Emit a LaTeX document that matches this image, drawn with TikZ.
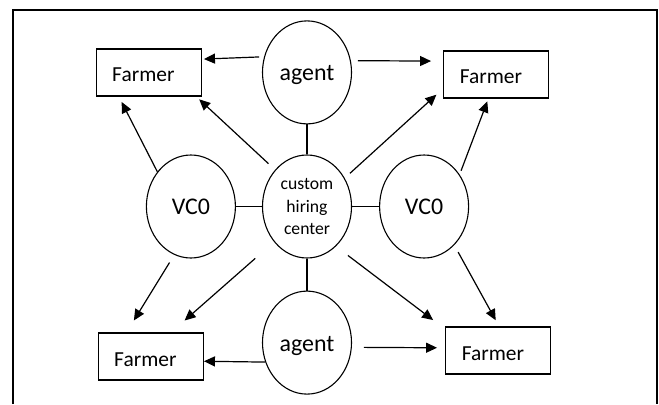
\documentclass[tikz,border=0pt]{standalone}
\usepackage{fontspec}
\setmainfont{Carlito}
\usetikzlibrary{arrows.meta, positioning, shapes.geometric}

\begin{document}
\begin{tikzpicture}[
  x=1bp, y=1bp, >={Triangle[length=11bp, width=10bp]},
  bub/.style={draw, ellipse, line width=1.1bp, minimum width=89bp, minimum height=103bp,
              inner sep=0pt, align=center, font=\fontsize{24}{28}\selectfont},
  farm/.style={draw, line width=1.4bp, minimum width=105bp, minimum height=47bp,
               text width=73bp, inner xsep=16bp, inner ysep=0pt, align=left,
               text height=19bp, font=\fontsize{21.5}{24}\selectfont},
  link/.style={line width=1.2bp}]
\useasboundingbox (0,0) rectangle (659,404);
\draw[line width=2bp] (13,0) -- (13,394) -- (657,394) -- (657,0);
\node[bub, font=\fontsize{17.7}{23}\selectfont] (chc) at (307,197.5) {custom\\hiring\\center};
\node[bub, text height=21bp, above=30bp of chc] (agt1) {agent};
\node[bub, text height=21bp, below=32bp of chc] (agt2) {agent};
\node[bub, left=26bp of chc]  (vco1) {VC0};
\node[bub, right=27bp of chc] (vco2) {VC0};
\node[farm, left=60bp of agt1]               (f1) {Farmer};
\node[farm, right=91bp of agt1, yshift=-2bp] (f2) {Farmer};
\node[farm, left=58bp of agt2, yshift=-14bp] (f3) {Farmer};
\node[farm, right=93bp of agt2, yshift=-8bp] (f4) {Farmer};
\foreach \a/\b in {agt1/chc, chc/agt2, vco1/chc, chc/vco2} \draw[link] (\a) -- (\b);
\foreach \a/\b/\s/\e in {agt1.160/f1.14/5bp/2bp, agt1.15/f2.166/7bp/12bp,
    chc.131/f1.333/9bp/4bp, vco1.134/f1.219/0bp/6bp, chc.37/f2.195/7bp/9bp,
    vco2.42/f2.252/4bp/3bp, vco1.251/f3.135/9bp/14bp, chc.227/f3.50/25bp/18bp,
    agt2.205/f3.355/0bp/0bp, chc.306/f4.158/15bp/15bp, vco2.308/f4.88/8bp/7bp,
    agt2.354/f4.177/12bp/8bp}
  \draw[link, ->, shorten <=\s, shorten >=\e] (\a) -- (\b);
\end{tikzpicture}
\end{document}
